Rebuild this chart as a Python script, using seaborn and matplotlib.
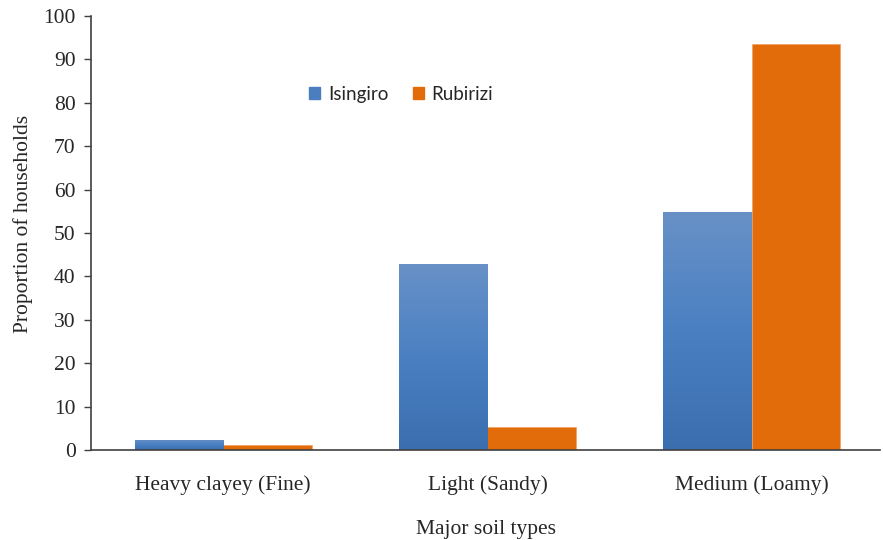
import matplotlib
matplotlib.use("Agg")
import matplotlib.pyplot as plt
import matplotlib.patches as mpatches
import numpy as np
import pandas as pd
import seaborn as sns

soil_types = ["Heavy clayey (Fine)", "Light (Sandy)", "Medium (Loamy)"]
isingiro = [2.4, 42.8, 54.8]
rubirizi = [1.15, 5.2, 93.6]
districts = ["Isingiro", "Rubirizi"]
colors = {"Isingiro": "#4A7EBF", "Rubirizi": "#E36C0A"}

df = pd.DataFrame({
    "soil": soil_types * 2,
    "district": ["Isingiro"] * 3 + ["Rubirizi"] * 3,
    "value": isingiro + rubirizi,
})

sns.set_style("white")
plt.rcParams["font.family"] = ["Liberation Serif", "DejaVu Serif"]

fig = plt.figure(figsize=(8.83, 5.4), dpi=100)
ax = fig.add_axes([91 / 883, 90 / 540, 789 / 883, 434 / 540])

sns.barplot(data=df, x="soil", y="value", hue="district", order=soil_types,
            hue_order=districts, palette=colors, width=0.67, gap=0,
            saturation=1, errorbar=None, ax=ax, legend=False)

# vertical gradient on the Isingiro bars (light top, darker bottom)
grad = np.linspace(0, 1, 256).reshape(-1, 1)
cmap = matplotlib.colors.LinearSegmentedColormap.from_list("g", ["#3A6EAF", "#4A80C2", "#6891C7"])
for bar in ax.patches[:3]:
    x0, y0 = bar.get_x(), bar.get_y()
    w, h = bar.get_width(), bar.get_height()
    im = ax.imshow(grad, cmap=cmap, aspect="auto", origin="lower",
                   extent=[x0, x0 + w, y0, y0 + h], zorder=bar.get_zorder() + 0.1)
    im.set_clip_path(bar)
    bar.set_edgecolor("#8FB0DA")
    bar.set_linewidth(0.6)
for bar in ax.patches[3:6]:
    bar.set_edgecolor("#F0A060")
    bar.set_linewidth(0.5)

ax.set_xlim(-0.5, 2.485)
ax.set_ylim(0, 100)
ax.set_yticks(range(0, 101, 10))
ax.tick_params(axis="y", direction="out", length=5, width=1, color="#404040",
               labelsize=15.5, left=True, pad=6)
ax.tick_params(axis="x", length=0, labelsize=15.5, pad=18)
for side in ["top", "right"]:
    ax.spines[side].set_visible(False)
for side in ["left", "bottom"]:
    ax.spines[side].set_color("#404040")
    ax.spines[side].set_linewidth(1.2)

ax.set_xlabel("Major soil types", fontsize=15.5, labelpad=18)
ax.set_ylabel("Proportion of households", fontsize=15.5)
ax.yaxis.set_label_coords(-0.074, 0.52)

handles = [mpatches.Patch(color=colors[d], label=d) for d in districts]
ax.legend(handles=handles, loc="center", bbox_to_anchor=(0.393, 0.82), ncol=2,
          frameon=False, handlelength=0.6, handleheight=0.6, handletextpad=0.4,
          columnspacing=1.3, prop={"family": "Lato", "size": 13.5})

fig.savefig("out.png", dpi=100)
